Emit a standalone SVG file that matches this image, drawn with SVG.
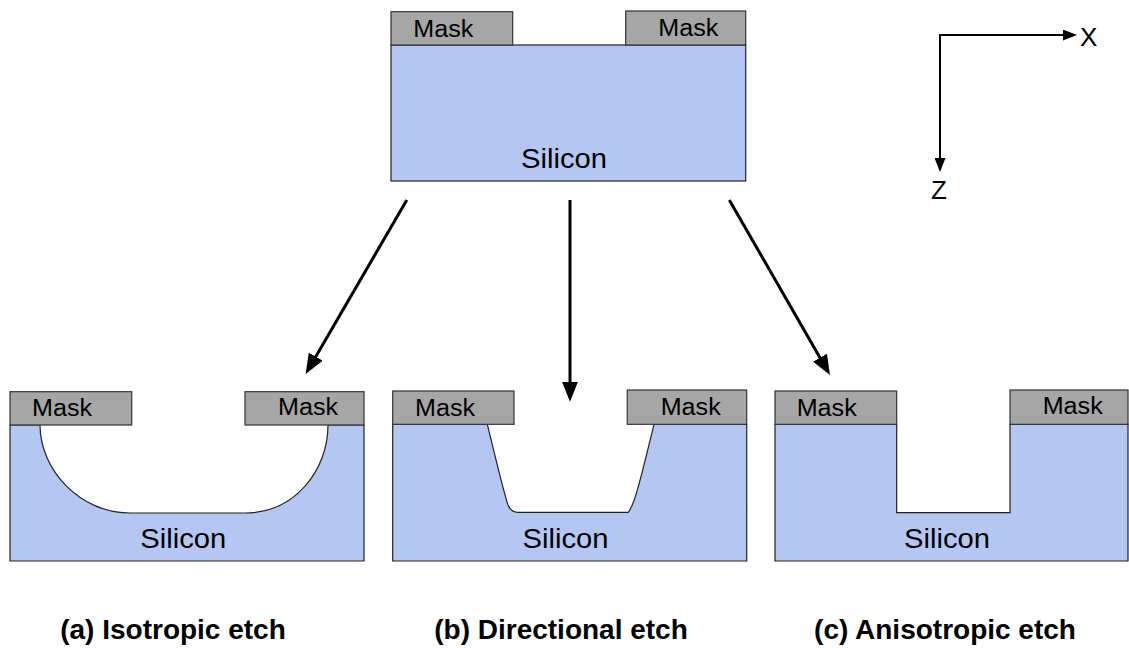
<svg xmlns="http://www.w3.org/2000/svg" width="1129" height="648" viewBox="0 0 1129 648">
  <defs>
    <marker id="bigHead" markerUnits="userSpaceOnUse" markerWidth="20" markerHeight="16" refX="2" refY="8" orient="auto">
      <path d="M0,0 L20,8 L0,16 z" fill="#000"/>
    </marker>
    <marker id="axisHead" markerUnits="userSpaceOnUse" markerWidth="14" markerHeight="11" refX="1" refY="5.5" orient="auto">
      <path d="M0,0 L14,5.5 L0,11 z" fill="#000"/>
    </marker>
  </defs>
  <style>
    .si { fill: #b4c7f3; stroke: #222; stroke-width: 1.2; }
    .mask { fill: #a6a6a6; stroke: #333; stroke-width: 1.2; }
    .lbl { font-family: "Liberation Sans", Arial, sans-serif; fill: #000; }
    .mk { font-size: 23px; }
    .sl { font-size: 28px; text-anchor: middle; }
    .title { font-size: 28px; font-weight: bold; text-anchor: middle; }
    .ax { font-size: 26px; }
    .arrow { stroke: #000; stroke-width: 3; fill: none; }
    .axis { stroke: #000; stroke-width: 2; fill: none; stroke-linecap: square; }
  </style>

  <g id="top-wafer">
    <rect class="si" x="391" y="45" width="354.7" height="136"/>
    <rect class="mask" x="391" y="11.7" width="121.7" height="33.3"/>
    <rect class="mask" x="625.7" y="11" width="120" height="34"/>
    <text class="lbl mk" x="413.3" y="36.5" textLength="60" lengthAdjust="spacingAndGlyphs">Mask</text>
    <text class="lbl mk" x="658.3" y="35.5" textLength="60" lengthAdjust="spacingAndGlyphs">Mask</text>
    <text class="lbl sl" x="564" y="168" textLength="86" lengthAdjust="spacingAndGlyphs">Silicon</text>
  </g>

  <g id="isotropic">
    <path class="si" d="M10,425 L40,425 C40,470 80,513 130,513 L245,513 C295,513 328,470 328,425 L364,425 L364,561 L10,561 Z"/>
    <rect class="mask" x="10" y="391.7" width="121.7" height="33.3"/>
    <rect class="mask" x="245" y="391.7" width="119" height="33.3"/>
    <text class="lbl mk" x="32" y="416" textLength="60" lengthAdjust="spacingAndGlyphs">Mask</text>
    <text class="lbl mk" x="278" y="415" textLength="60" lengthAdjust="spacingAndGlyphs">Mask</text>
    <text class="lbl sl" x="183.3" y="548" textLength="86" lengthAdjust="spacingAndGlyphs">Silicon</text>
  </g>

  <g id="directional">
    <path class="si" d="M392.7,424.3 L487.3,424.3 C495,455 503,490 508,505 Q511,512.3 518,512.3 L628.3,512.3 C634,505 638,490 654,424.3 L746.7,424.3 L746.7,561 L392.7,561 Z"/>
    <rect class="mask" x="392.7" y="391" width="121.3" height="33.3"/>
    <rect class="mask" x="627.3" y="390" width="119.4" height="34.3"/>
    <text class="lbl mk" x="415" y="416" textLength="60" lengthAdjust="spacingAndGlyphs">Mask</text>
    <text class="lbl mk" x="660.7" y="415" textLength="60" lengthAdjust="spacingAndGlyphs">Mask</text>
    <text class="lbl sl" x="565.5" y="548" textLength="86" lengthAdjust="spacingAndGlyphs">Silicon</text>
  </g>

  <g id="anisotropic">
    <path class="si" d="M775,424.3 L896.7,424.3 L896.7,512.7 L1010,512.7 L1010,424.3 L1128,424.3 L1128,561 L775,561 Z"/>
    <rect class="mask" x="775" y="391" width="121.7" height="33.3"/>
    <rect class="mask" x="1010" y="390" width="118" height="34.3"/>
    <text class="lbl mk" x="796.7" y="416" textLength="60" lengthAdjust="spacingAndGlyphs">Mask</text>
    <text class="lbl mk" x="1042.7" y="414" textLength="60" lengthAdjust="spacingAndGlyphs">Mask</text>
    <text class="lbl sl" x="947" y="548" textLength="86" lengthAdjust="spacingAndGlyphs">Silicon</text>
  </g>

  <g id="axes">
    <path class="axis" d="M940,35 L1064,35" marker-end="url(#axisHead)"/>
    <path class="axis" d="M940,35 L940,159" marker-end="url(#axisHead)"/>
    <text class="lbl ax" x="1080" y="46">X</text>
    <text class="lbl ax" x="931" y="199.3">Z</text>
  </g>

  <g id="connectors">
    <line class="arrow" x1="406.8" y1="200" x2="314.7" y2="358.4" marker-end="url(#bigHead)"/>
    <line class="arrow" x1="570" y1="200" x2="570" y2="383.7" marker-end="url(#bigHead)"/>
    <line class="arrow" x1="729.3" y1="200" x2="821" y2="359.4" marker-end="url(#bigHead)"/>
  </g>

  <g id="captions">
    <text class="lbl title" x="173" y="639">(a) Isotropic etch</text>
    <text class="lbl title" x="561" y="639">(b) Directional etch</text>
    <text class="lbl title" x="945" y="639">(c) Anisotropic etch</text>
  </g>
</svg>
